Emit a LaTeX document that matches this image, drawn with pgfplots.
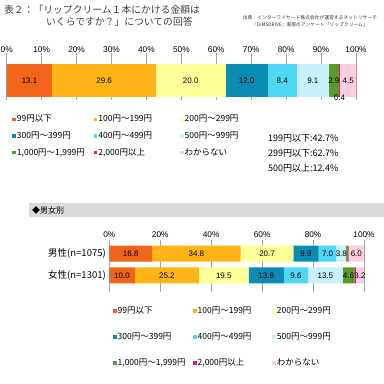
\documentclass[border=0pt]{standalone}
\usepackage{fontspec}
\setmainfont{Liberation Sans}
\newfontfamily\jp{Noto Sans CJK JP}
\usepackage{pgfplots}
\usepackage{pgfplotstable}
\pgfplotsset{compat=1.18}
\definecolor{c1}{RGB}{242,100,25}
\definecolor{c2}{RGB}{254,180,20}
\definecolor{c3}{RGB}{255,255,153}
\definecolor{c4}{RGB}{10,140,180}
\definecolor{c5}{RGB}{80,215,245}
\definecolor{c6}{RGB}{200,240,255}
\definecolor{c7}{RGB}{90,155,40}
\definecolor{c8}{RGB}{215,30,110}
\definecolor{c9}{RGB}{255,205,225}
% overall answers
\pgfplotstableread{
y s1   s2   s3   s4   s5  s6  s7  s8  s9
0 13.1 29.6 20.0 12.0 8.4 9.1 2.9 0.4 4.5
}\toptab
% by gender: y=1 male (n=1075), y=0 female (n=1301)
\pgfplotstableread{
y s1   s2   s3   s4   s5  s6   s7  s8  s9
1 16.8 34.8 20.7 9.9  7.0 3.8  0.7 0.3 6.0
0 10.0 25.2 19.5 13.8 9.6 13.5 4.6 0.6 3.2
}\gentab
\pgfplotsset{
  mystack/.style={
    scale only axis, xbar stacked, clip=false,
    xmin=0, xmax=100,
    axis line style={draw=none}, major tick length=0pt,
    xmajorgrids, grid style={black!35, line width=0.5pt},
    ticklabel style={font=\fontsize{8.3}{9.6}\selectfont},
    /pgf/number format/assume math mode=true,
    xticklabel pos=upper,
    nodes near coords={\ifdim\rawx pt<1pt\else\pgfmathprintnumber[fixed,fixed zerofill,precision=1]{\rawx}\fi},
    every node near coord/.append style={anchor=center, inner sep=0pt,
      font=\fontsize{8}{9.6}\selectfont},
    legend columns=3, legend cell align=left,
    legend image code/.code={\fill[##1,draw=none] (0pt,-1.75pt) rectangle (3.5pt,1.75pt);},
  },
  seg/.style 2 args={fill=#1, draw=none, visualization depends on={\thisrow{#2} \as \rawx}},
}
\begin{document}
\begin{tikzpicture}
\useasboundingbox (0pt,0pt) rectangle (384pt,384pt);
% title
\node[anchor=west, font=\jp\fontsize{9.8}{11}\selectfont, text=black!75, inner sep=0pt] at (4pt,374pt) {表２：「リップクリーム１本にかける金額は};
\node[anchor=west, font=\jp\fontsize{9.8}{11}\selectfont, text=black!75, inner sep=0pt] at (46pt,362pt) {いくらですか？」についての回答};
\node[align=center, font=\jp\fontsize{4.8}{7}\selectfont, text=black!80, inner sep=0pt] at (310pt,362.5pt) {出典：インターワイヤード株式会社が運営するネットリサーチ\\『DIMSDRIVE』実施のアンケート「リップクリーム」};
% stats
\node[anchor=west, font=\jp\fontsize{9}{10}\selectfont, inner sep=0pt] at (268pt,245.7pt) {199円以下:42.7\%};
\node[anchor=west, font=\jp\fontsize{9}{10}\selectfont, inner sep=0pt] at (268pt,230.7pt) {299円以下:62.7\%};
\node[anchor=west, font=\jp\fontsize{9}{10}\selectfont, inner sep=0pt] at (268pt,216.3pt) {500円以上:12.4\%};
% band
\fill[black!15] (29pt,180.7pt) rectangle (384pt,166.7pt);
\node[anchor=west, font=\jp\fontsize{8}{9.6}\selectfont, inner sep=0pt] at (32pt,173.7pt) {◆男女別};
% row labels of the gender chart
\node[anchor=east, font=\jp\fontsize{9.5}{11}\selectfont, inner sep=0pt] at (106pt,130.3pt) {男性(n=1075)};
\node[anchor=east, font=\jp\fontsize{9.5}{11}\selectfont, inner sep=0pt] at (106pt,108.7pt) {女性(n=1301)};

% ---------- top chart ----------
\begin{axis}[mystack,
  at={(6.7pt,330.7pt)}, anchor=north west,
  width=349.3pt, height=46.7pt,
  bar width=32.7pt,
  ymin=-19.5, ymax=27.2, ytick=\empty,
  xtick={0,10,...,100},
  xticklabels={0\%,10\%,20\%,30\%,40\%,50\%,60\%,70\%,80\%,90\%,100\%},
  xticklabel style={inner sep=1pt},
  legend style={at={(0.016,-0.300)}, anchor=north west, draw=none, fill=none,
    inner sep=0pt, row sep=6.4pt, nodes={inner sep=1pt},
    font=\jp\fontsize{8.5}{10}\selectfont},
]
\addplot[seg={c1}{s1}] table[x=s1,y=y] {\toptab};
\addlegendentry{\makebox[75.9pt][l]{99円以下}}
\addplot[seg={c2}{s2}] table[x=s2,y=y] {\toptab};
\addlegendentry{\makebox[80.8pt][l]{100円～199円}}
\addplot[seg={c3}{s3}] table[x=s3,y=y] {\toptab};
\addlegendentry{200円～299円}
\addplot[seg={c4}{s4}] table[x=s4,y=y] {\toptab};
\addlegendentry{\makebox[75.9pt][l]{300円～399円}}
\addplot[seg={c5}{s5}] table[x=s5,y=y] {\toptab};
\addlegendentry{\makebox[80.8pt][l]{400円～499円}}
\addplot[seg={c6}{s6}] table[x=s6,y=y] {\toptab};
\addlegendentry{500円～999円}
\addplot[seg={c7}{s7}] table[x=s7,y=y] {\toptab};
\addlegendentry{\makebox[75.9pt][l]{1,000円～1,999円}}
\addplot[seg={c8}{s8},
  nodes near coords={\pgfmathprintnumber[fixed,fixed zerofill,precision=1]{\rawx}},
  every node near coord/.append style={yshift=-17.2pt}] table[x=s8,y=y] {\toptab};
\addlegendentry{\makebox[80.8pt][l]{2,000円以上}}
\addplot[seg={c9}{s9}] table[x=s9,y=y] {\toptab};
\addlegendentry{わからない}
\end{axis}

% ---------- bottom chart ----------
\begin{axis}[mystack,
  at={(109.3pt,144pt)}, anchor=north west,
  width=254.7pt, height=52pt,
  bar width=16pt,
  ymin=-0.773, ymax=1.634,
  ytick=\empty,
  xtick={0,20,...,100},
  xticklabels={0\%,20\%,40\%,60\%,80\%,100\%},
  xticklabel style={inner sep=2pt},
  legend style={at={(0.0145,-0.262)}, anchor=north west, draw=none, fill=none,
    inner sep=0pt, row sep=15.8pt, nodes={inner sep=1pt},
    font=\jp\fontsize{8.5}{10}\selectfont},
]
\addplot[seg={c1}{s1}] table[x=s1,y=y] {\gentab};
\addlegendentry{\makebox[74.5pt][l]{99円以下}}
\addplot[seg={c2}{s2}] table[x=s2,y=y] {\gentab};
\addlegendentry{\makebox[73.8pt][l]{100円～199円}}
\addplot[seg={c3}{s3}] table[x=s3,y=y] {\gentab};
\addlegendentry{200円～299円}
\addplot[seg={c4}{s4}] table[x=s4,y=y] {\gentab};
\addlegendentry{\makebox[74.5pt][l]{300円～399円}}
\addplot[seg={c5}{s5}] table[x=s5,y=y] {\gentab};
\addlegendentry{\makebox[73.8pt][l]{400円～499円}}
\addplot[seg={c6}{s6}] table[x=s6,y=y] {\gentab};
\addlegendentry{500円～999円}
\addplot[seg={c7}{s7}] table[x=s7,y=y] {\gentab};
\addlegendentry{\makebox[74.5pt][l]{1,000円～1,999円}}
\addplot[seg={c8}{s8}] table[x=s8,y=y] {\gentab};
\addlegendentry{\makebox[73.8pt][l]{2,000円以上}}
\addplot[seg={c9}{s9}] table[x=s9,y=y] {\gentab};
\addlegendentry{わからない}
\end{axis}
\end{tikzpicture}
\end{document}
